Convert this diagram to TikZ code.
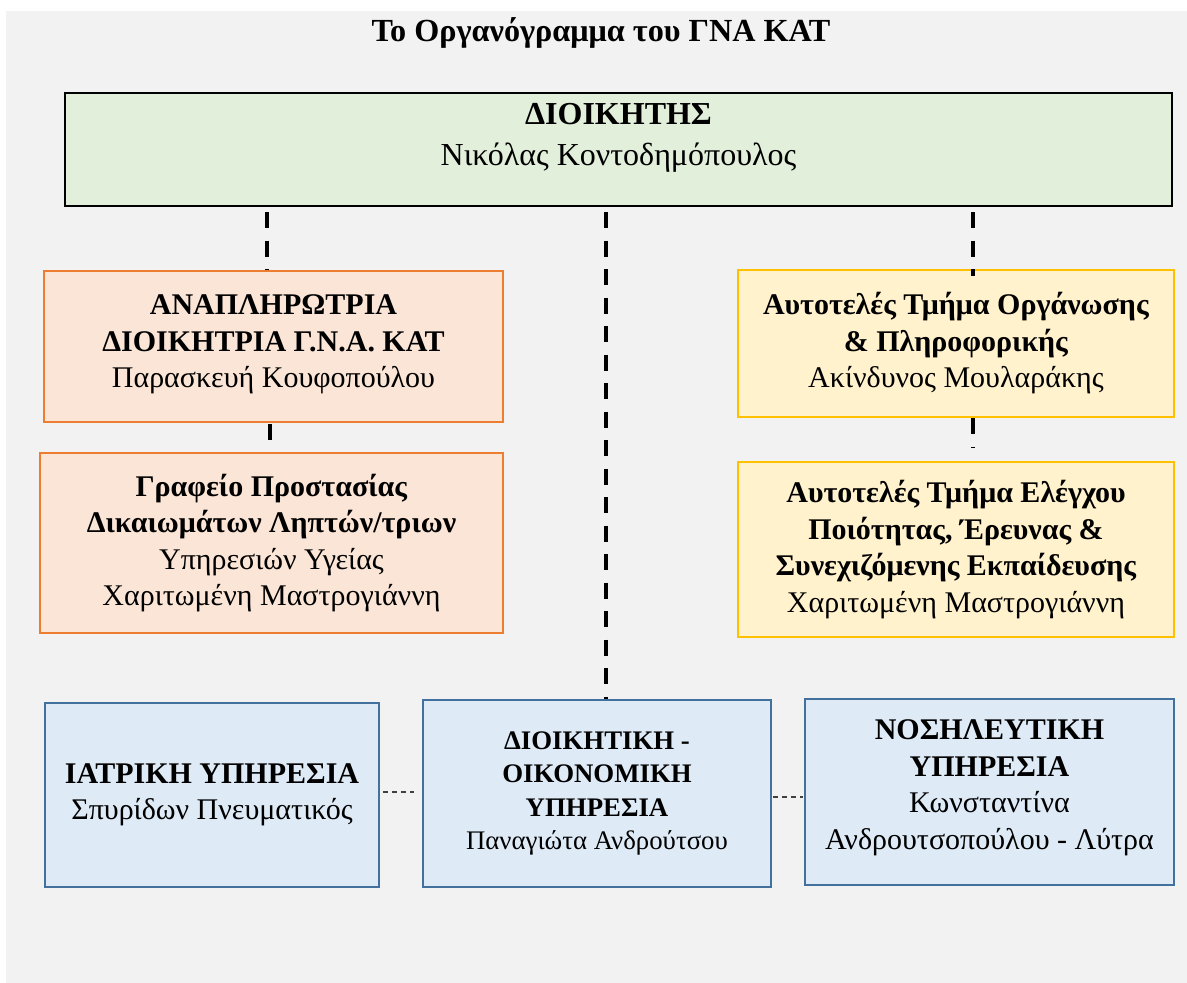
\documentclass[tikz,border=0pt]{standalone}
\usepackage{fontspec}
\setmainfont{Liberation Serif}
\usepackage{tikz}
\usetikzlibrary{positioning}
\definecolor{bggrey}{HTML}{F2F2F2}
\definecolor{genfill}{HTML}{E2EFDA}
\definecolor{anafill}{HTML}{FBE5D6}
\definecolor{anaedge}{HTML}{ED7D31}
\definecolor{orgfill}{HTML}{FFF2CC}
\definecolor{orgedge}{HTML}{FFC000}
\definecolor{svcfill}{HTML}{DEEBF7}
\definecolor{svcedge}{HTML}{41719C}

\begin{document}
\begin{tikzpicture}[x=1pt, y=-1pt,
  box/.style={draw, line width=2pt, align=center, inner sep=0pt, font=\fontsize{30}{36.5}\selectfont},
  genbox/.style={box, draw=black, fill=genfill, font=\fontsize{32}{41}\selectfont},
  anabox/.style={box, draw=anaedge, fill=anafill},
  orgbox/.style={box, draw=orgedge, fill=orgfill},
  svcbox/.style={box, draw=svcedge, fill=svcfill, line width=2.5pt},
  titletext/.style={font=\fontsize{32.2}{38}\selectfont\bfseries, inner sep=0pt},
  linkthick/.style={line width=3.5pt, dash pattern=on 16pt off 12.5pt, shorten <=5pt},
  linkthin/.style={line width=1.2pt, black!75, dash pattern=on 5pt off 4pt}
]
\useasboundingbox (0,0) rectangle (1187,983);
\fill[bggrey] (6,11) rectangle (1187,983);

\node[titletext, anchor=base] (title) at (601,41.5) {Το Οργανόγραμμα του ΓΝΑ ΚΑΤ};

\node[genbox, minimum width=1107, minimum height=113, text depth=29.5pt] (gen) at (618.5,149.5)
  {\textbf{ΔΙΟΙΚΗΤΗΣ}\\Νικόλας Κοντοδημόπουλος};

\node[anabox, minimum width=459, minimum height=151, text depth=10pt] (ana) at (273.5,346.5)
  {\textbf{ΑΝΑΠΛΗΡΩΤΡΙΑ}\\\textbf{ΔΙΟΙΚΗΤΡΙΑ Γ.Ν.Α. ΚΑΤ}\\Παρασκευή Κουφοπούλου};
\node[anabox, minimum width=463, minimum height=180] (graf) at (271.5,543)
  {\textbf{Γραφείο Προστασίας}\\\textbf{Δικαιωμάτων Ληπτών/τριων}\\Υπηρεσιών Υγείας\\Χαριτωμένη Μαστρογιάννη};

\node[orgbox, minimum width=436, minimum height=147] (org) at (956,343.5)
  {\textbf{Αυτοτελές Τμήμα Οργάνωσης}\\\textbf{\& Πληροφορικής}\\Ακίνδυνος Μουλαράκης};
\node[orgbox, minimum width=436, minimum height=175] (qual) at (956,549.5)
  {\textbf{Αυτοτελές Τμήμα Ελέγχου}\\\textbf{Ποιότητας, Έρευνας \&}\\\textbf{Συνεχιζόμενης Εκπαίδευσης}\\Χαριτωμένη Μαστρογιάννη};

\node[svcbox, minimum width=334, minimum height=184] (iatr) at (212,795)
  {\textbf{ΙΑΤΡΙΚΗ ΥΠΗΡΕΣΙΑ}\\Σπυρίδων Πνευματικός};
\node[svcbox, minimum width=348, minimum height=187, font=\fontsize{26.8}{33.3}\selectfont] (dioik) at (597,793.5)
  {\textbf{ΔΙΟΙΚΗΤΙΚΗ -}\\\textbf{ΟΙΚΟΝΟΜΙΚΗ}\\\textbf{ΥΠΗΡΕΣΙΑ}\\Παναγιώτα Ανδρούτσου};
\node[svcbox, minimum width=369, minimum height=186, text depth=15pt] (nosh) at (989.5,792)
  {\textbf{ΝΟΣΗΛΕΥΤΙΚΗ}\\\textbf{ΥΠΗΡΕΣΙΑ}\\Κωνσταντίνα\\Ανδρουτσοπούλου - Λύτρα};

\draw[linkthick] ([xshift=-6.5]ana.north |- gen.south) -- ([xshift=-6.5]ana.north);
\draw[linkthick] ([xshift=9]dioik.north |- gen.south) -- ([xshift=9]dioik.north);
\draw[linkthick, shorten >=-7pt] ([xshift=17]org.north |- gen.south) -- ([xshift=17]org.north);
\draw[linkthick, shorten <=1pt] ([xshift=-3.5]ana.south) -- ([xshift=-3.5]ana.south |- graf.north);
\draw[linkthick, shorten <=0pt, shorten >=13pt] ([xshift=17]org.south) -- ([xshift=17]org.south |- qual.north);
\draw[linkthin, shorten <=3pt, shorten >=8pt] ([yshift=3]iatr.east) -- ([yshift=3]iatr.east -| dioik.west);
\draw[linkthin, shorten <=1pt, shorten >=1pt] ([yshift=-3.5]dioik.east) -- ([yshift=-3.5]dioik.east -| nosh.west);
\end{tikzpicture}
\end{document}
